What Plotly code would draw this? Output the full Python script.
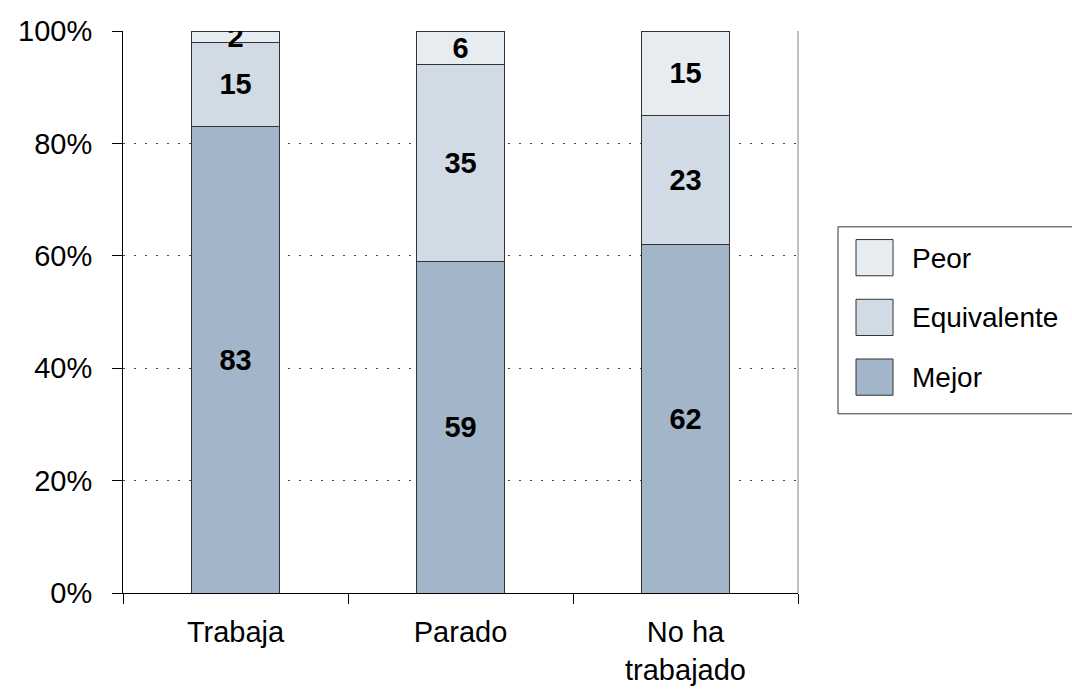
import plotly.graph_objects as go

categories = ["Trabaja", "Parado", "No ha<br>trabajado"]
mejor = [83, 59, 62]
equivalente = [15, 35, 23]
peor = [2, 6, 15]
series_names = ["Mejor", "Equivalente", "Peor"]
y_ticks = [0, 20, 40, 60, 80, 100]

colors = {"Mejor": "#a2b5c9", "Equivalente": "#d0dbe5", "Peor": "#e7ecf1"}
series = {"Mejor": mejor, "Equivalente": equivalente, "Peor": peor}

fig = go.Figure()
for name in series_names:
    vals = series[name]
    fig.add_trace(go.Bar(
        x=categories, y=vals, name=name,
        marker=dict(color=colors[name], line=dict(color="#333333", width=1)),
        text=[str(v) for v in vals],
        textposition="inside", insidetextanchor="middle",
        constraintext="none", textangle=0,
        textfont=dict(family="Liberation Sans", size=29, color="black", weight="bold"),
        showlegend=False,
    ))

W, H = 1072, 698


def vy(y):
    # the captured page comes out slightly squashed vertically; compensate
    return (y - 1) / 0.98


L = 123
T = vy(31)
R = W - 798
B = H - vy(605)
pw, ph = W - L - R, H - T - B


def px(x):
    return (x - L) / pw


def py(y):
    return (H - B - vy(y)) / ph


shapes = [
    dict(type="line", xref="paper", yref="paper", x0=1, x1=1, y0=0, y1=1,
         line=dict(color="#808080", width=1)),
    dict(type="rect", xref="paper", yref="paper", x0=px(838), x1=px(1085),
         y0=py(422), y1=py(231), line=dict(color="#333333", width=1), fillcolor="white"),
]
annotations = []
legend_order = ["Peor", "Equivalente", "Mejor"]
tops = [244, 305, 366]
for name, top in zip(legend_order, tops):
    shapes.append(dict(type="rect", xref="paper", yref="paper",
                       x0=px(856), x1=px(893), y0=py(top + 37), y1=py(top),
                       line=dict(color="#333333", width=1), fillcolor=colors[name]))
    annotations.append(dict(xref="paper", yref="paper", x=px(910), y=py(top + 19),
                            text=name, showarrow=False, xanchor="left", yanchor="middle",
                            font=dict(family="Liberation Sans", size=28, color="black")))

fig.update_layout(
    width=W, height=H,
    margin=dict(l=L, r=R, t=T, b=B, pad=0),
    barmode="stack", bargap=0.61,
    plot_bgcolor="white", paper_bgcolor="white",
    font=dict(family="Liberation Sans", size=29, color="black"),
    shapes=shapes, annotations=annotations,
)
fig.update_xaxes(
    showline=True, linecolor="black", linewidth=1,
    ticks="outside", ticklen=10, tickcolor="black", tickson="boundaries",
    showgrid=False, ticklabelstandoff=13,
)
fig.update_yaxes(
    range=[0, 100], tickvals=y_ticks, ticktext=[f"{v}%" for v in y_ticks],
    showline=True, linecolor="black", linewidth=1,
    ticks="outside", ticklen=10, tickcolor="black",
    showgrid=True, gridcolor="#444444", gridwidth=1, griddash="2px,9px",
    zeroline=False, ticklabelstandoff=14,
)

fig.write_html(
    "out.html",
    config={"displayModeBar": False},
    post_script=(
        "var d=document.documentElement, b=document.body;"
        "d.style.margin='0'; d.style.padding='0'; d.style.overflow='hidden'; d.style.height='698px';"
        "b.style.margin='0'; b.style.padding='0'; b.style.overflow='hidden'; b.style.height='698px';"
    ),
)
